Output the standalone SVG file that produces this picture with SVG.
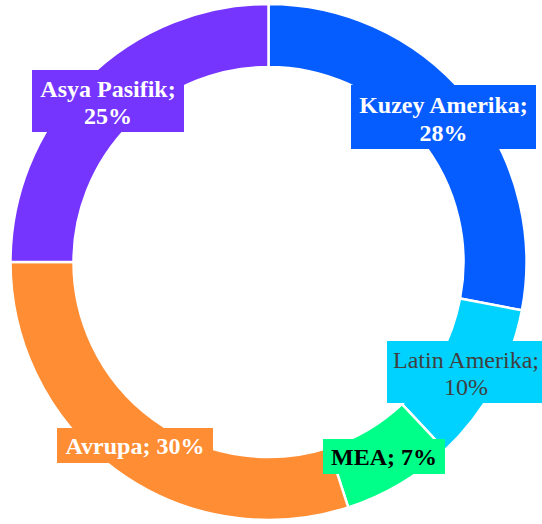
<svg xmlns="http://www.w3.org/2000/svg" width="542" height="524" viewBox="0 0 542 524">
<style>
.seg{stroke:#fff;stroke-width:2.5;stroke-linejoin:miter}
.lbl{font-family:"Liberation Serif","Times New Roman",serif;font-size:24px;text-anchor:middle}
.b{font-weight:bold}
</style>
<rect width="542" height="524" fill="#fff"/>
<g id="segments">
<g id="seg-kuzey"><path class="seg" fill="#055CFF" d="M268.5,4 A258,258 0 0 1 521.93,310.34 L460.05,298.54 A195,195 0 0 0 268.5,67 Z"/></g>
<g id="seg-latin"><path class="seg" fill="#00D2FF" d="M521.93,310.34 A258,258 0 0 1 445.11,450.07 L401.99,404.15 A195,195 0 0 0 460.05,298.54 Z"/></g>
<g id="seg-mea"><path class="seg" fill="#00FF88" d="M445.11,450.07 A258,258 0 0 1 348.23,507.37 L328.76,447.46 A195,195 0 0 0 401.99,404.15 Z"/></g>
<g id="seg-avrupa"><path class="seg" fill="#FF8D33" d="M348.23,507.37 A258,258 0 0 1 10.5,262 L73.5,262 A195,195 0 0 0 328.76,447.46 Z"/></g>
<g id="seg-asya"><path class="seg" fill="#7634FF" d="M10.5,262 A258,258 0 0 1 268.5,4 L268.5,67 A195,195 0 0 0 73.5,262 Z"/></g>
</g>
<g id="label-asya">
<rect x="32" y="70" width="152" height="62" fill="#7634FF"/>
<text class="lbl b" fill="#fff" x="108" y="97">Asya Pasifik;</text>
<text class="lbl b" fill="#fff" x="108" y="124">25%</text>
</g>
<g id="label-kuzey">
<rect x="351" y="85" width="185" height="64" fill="#055CFF"/>
<text class="lbl b" fill="#fff" x="443.5" y="113">Kuzey Amerika;</text>
<text class="lbl b" fill="#fff" x="443.5" y="141">28%</text>
</g>
<g id="label-latin">
<rect x="387" y="341" width="158" height="62" fill="#00D2FF"/>
<text class="lbl" fill="#404040" x="466" y="368">Latin Amerika;</text>
<text class="lbl" fill="#404040" x="466" y="394.5">10%</text>
</g>
<g id="label-mea">
<rect x="323" y="439" width="122" height="35" fill="#00FF88"/>
<text class="lbl b" fill="#000" x="384" y="465">MEA; 7%</text>
</g>
<g id="label-avrupa">
<rect x="57" y="428" width="156" height="35" fill="#FF8D33"/>
<text class="lbl b" fill="#fff" x="135" y="454">Avrupa; 30%</text>
</g>
</svg>
